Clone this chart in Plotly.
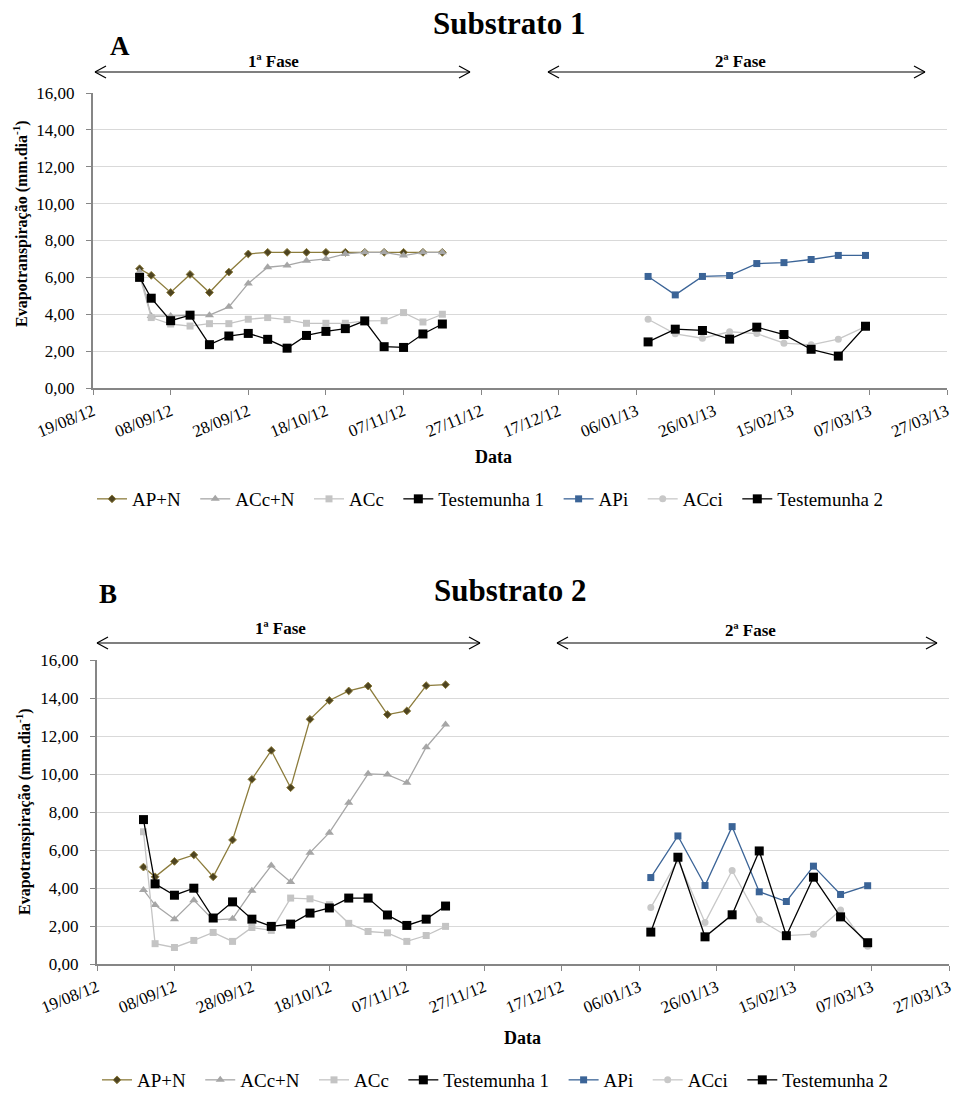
import plotly.graph_objects as go

# ---------------- data ----------------
dates_f1 = ["2012-08-31", "2012-09-03", "2012-09-08", "2012-09-13", "2012-09-18", "2012-09-23",
            "2012-09-28", "2012-10-03", "2012-10-08", "2012-10-13", "2012-10-18", "2012-10-23",
            "2012-10-28", "2012-11-02", "2012-11-07", "2012-11-12", "2012-11-17"]
dates_f2 = ["2013-01-09", "2013-01-16", "2013-01-23", "2013-01-30", "2013-02-06",
            "2013-02-13", "2013-02-20", "2013-02-27", "2013-03-06"]

# Substrato 1
s1_apn = [6.47, 6.11, 5.18, 6.16, 5.18, 6.29, 7.27, 7.36, 7.36, 7.36, 7.36, 7.36, 7.36, 7.36, 7.36, 7.36, 7.36]
s1_accn = [6.30, 3.90, 3.90, 3.95, 3.95, 4.40, 5.67, 6.55, 6.65, 6.90, 7.00, 7.27, 7.36, 7.36, 7.18, 7.36, 7.36]
s1_acc = [6.10, 3.82, 3.47, 3.36, 3.49, 3.49, 3.73, 3.82, 3.71, 3.51, 3.51, 3.51, 3.64, 3.65, 4.09, 3.58, 4.00]
s1_t1 = [6.00, 4.87, 3.65, 3.95, 2.35, 2.82, 2.96, 2.64, 2.16, 2.85, 3.07, 3.22, 3.64, 2.24, 2.20, 2.93, 3.47]
s1_api = [6.05, 5.05, 6.05, 6.10, 6.75, 6.80, 6.97, 7.19, 7.19]
s1_acci = [3.73, 2.94, 2.70, 3.05, 2.95, 2.43, 2.34, 2.65, 3.33]
s1_t2 = [2.50, 3.19, 3.12, 2.65, 3.30, 2.90, 2.10, 1.73, 3.35]

# Substrato 2
s2_apn = [5.10, 4.59, 5.40, 5.74, 4.59, 6.53, 9.72, 11.24, 9.28, 12.88, 13.87, 14.37, 14.63, 13.13, 13.32, 14.65, 14.70]
s2_accn = [3.90, 3.10, 2.36, 3.36, 2.32, 2.38, 3.85, 5.18, 4.31, 5.86, 6.91, 8.49, 10.01, 9.97, 9.54, 11.41, 12.60]
s2_acc = [6.96, 1.07, 0.87, 1.24, 1.66, 1.19, 1.92, 1.77, 3.47, 3.43, 3.12, 2.14, 1.71, 1.64, 1.19, 1.50, 1.98]
s2_t1 = [7.60, 4.22, 3.62, 3.99, 2.42, 3.27, 2.36, 1.98, 2.10, 2.68, 2.95, 3.47, 3.47, 2.58, 2.03, 2.36, 3.05]
s2_api = [4.55, 6.74, 4.13, 7.23, 3.80, 3.29, 5.15, 3.66, 4.12]
s2_acci = [2.97, 5.48, 2.19, 4.92, 2.33, 1.49, 1.57, 2.84, 0.93]
s2_t2 = [1.68, 5.62, 1.43, 2.59, 5.95, 1.49, 4.57, 2.48, 1.12]

series_names = ["AP+N", "ACc+N", "ACc", "Testemunha 1", "APi", "ACci", "Testemunha 2"]
yticks = [0, 2, 4, 6, 8, 10, 12, 14, 16]

# ---------------- styling ----------------
W, H = 955, 1093
FONT = "Liberation Serif"
PAD = "\u00a0\u00a0"  # extra spacing between legend entries


def px(x):
    return x / W


def py(y):
    return 1 - y / H


styles = {
    "AP+N": dict(line=dict(color="#8C7C3C", width=1.3),
                 marker=dict(symbol="diamond", size=6, color="#4E4421", line=dict(color="#8C7C3C", width=1))),
    "ACc+N": dict(line=dict(color="#A6A6A6", width=1.3),
                  marker=dict(symbol="triangle-up", size=8, color="#A6A6A6")),
    "ACc": dict(line=dict(color="#C4C4C4", width=1.3),
                marker=dict(symbol="square", size=7, color="#C4C4C4")),
    "Testemunha 1": dict(line=dict(color="#000000", width=1.3),
                         marker=dict(symbol="square", size=9, color="#000000")),
    "APi": dict(line=dict(color="#3B6497", width=1.3),
                marker=dict(symbol="square", size=7, color="#3B6497")),
    "ACci": dict(line=dict(color="#C8C8C8", width=1.3),
                 marker=dict(symbol="circle", size=7, color="#C8C8C8")),
    "Testemunha 2": dict(line=dict(color="#000000", width=1.3),
                         marker=dict(symbol="square", size=9, color="#000000")),
}

fig = go.Figure()

panels = [
    dict(xa="x", ya="y", legend="legend",
         data=[s1_apn, s1_accn, s1_acc, s1_t1, s1_api, s1_acci, s1_t2]),
    dict(xa="x2", ya="y2", legend="legend2",
         data=[s2_apn, s2_accn, s2_acc, s2_t1, s2_api, s2_acci, s2_t2]),
]

for p in panels:
    for i, name in enumerate(series_names):
        xs = dates_f1 if i < 4 else dates_f2
        st = styles[name]
        fig.add_trace(go.Scatter(
            x=xs, y=p["data"][i], name=name + PAD, mode="lines+markers",
            line=st["line"], marker=st["marker"],
            xaxis=p["xa"], yaxis=p["ya"], legend=p["legend"],
        ))

xaxis_common = dict(
    type="date", range=["2012-08-19", "2013-03-27"], automargin=False,
    tick0="2012-08-19", dtick=20 * 86400000, tickformat="%d/%m/%y",
    tickangle=-22, ticks="outside", ticklen=5, tickcolor="#868686",
    showline=True, linecolor="#868686", linewidth=2, showgrid=False, zeroline=False,
    tickfont=dict(family=FONT, size=17, color="#000"),
)
yaxis_common = dict(
    range=[0, 16], tickvals=yticks, tickformat=".2f", automargin=False,
    ticks="outside", ticklen=5, tickcolor="#868686", ticklabelstandoff=8,
    showline=True, linecolor="#868686", linewidth=2,
    showgrid=True, gridcolor="#D9D9D9", gridwidth=1.3, zeroline=False,
    tickfont=dict(family=FONT, size=17, color="#000"),
)

legend_common = dict(orientation="h", xanchor="center", yanchor="middle",
                     font=dict(family=FONT, size=19, color="#000"), itemwidth=30,
                     bgcolor="rgba(0,0,0,0)")

fig.update_layout(
    template="none",
    width=W, height=H, margin=dict(l=0, r=0, t=0, b=0, autoexpand=False),
    paper_bgcolor="white", plot_bgcolor="white",
    separators=",.",
    font=dict(family=FONT, color="#000"),
    xaxis=dict(domain=[px(93), px(947)], anchor="y", **xaxis_common),
    yaxis=dict(domain=[py(388), py(93)], anchor="x", **yaxis_common),
    xaxis2=dict(domain=[px(97), px(949)], anchor="y2", **xaxis_common),
    yaxis2=dict(domain=[py(964), py(660)], anchor="x2", **yaxis_common),
    legend=dict(x=px(495), y=py(499), **legend_common),
    legend2=dict(x=px(500), y=py(1080), **legend_common),
    showlegend=True,
)

ann = []
shapes = []


def text(x, y, s, size, bold=True, angle=0):
    ann.append(dict(x=px(x), y=py(y), xref="paper", yref="paper", text=("<b>%s</b>" % s) if bold else s,
                    showarrow=False, textangle=angle, xanchor="center", yanchor="middle",
                    font=dict(family=FONT, size=size, color="#000")))


def arrow(x1, x2, y):
    shapes.append(dict(type="line", xref="paper", yref="paper", x0=px(x1), x1=px(x2), y0=py(y), y1=py(y),
                       line=dict(color="#000", width=1.2)))
    for xa, d in ((x1, 1), (x2, -1)):
        for dy in (-6, 6):
            shapes.append(dict(type="line", xref="paper", yref="paper", x0=px(xa), y0=py(y),
                               x1=px(xa + d * 11), y1=py(y + dy), line=dict(color="#000", width=1.2)))


# Panel A
text(509, 24, "Substrato 1", 31)
text(120, 46, "A", 27)
text(273, 61, "1ª Fase", 17)
text(740, 61, "2ª Fase", 17)
arrow(95, 470, 72)
arrow(548, 925, 72)
text(493, 457, "Data", 18)
text(20, 224, "Evapotranspiração (mm.dia<sup>-1</sup>)", 16, angle=-90)

# Panel B
text(510, 590, "Substrato 2", 31)
text(108, 594, "B", 27)
text(280, 628, "1ª Fase", 17)
text(750, 630, "2ª Fase", 17)
arrow(97, 480, 643)
arrow(557, 937, 643)
text(522, 1038, "Data", 18)
text(23, 812, "Evapotranspiração (mm.dia<sup>-1</sup>)", 16, angle=-90)

fig.update_layout(annotations=ann, shapes=shapes)

fig.write_html("out.html", config={"displayModeBar": False},
               post_script="document.body.style.margin='0px';")
